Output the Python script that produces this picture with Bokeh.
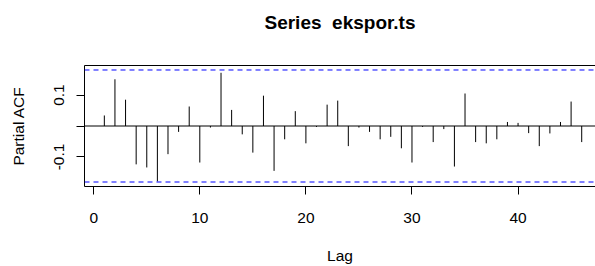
from bokeh.plotting import figure
from bokeh.models import ColumnDataSource, Range1d, Span, FixedTicker, LinearAxis
from bokeh.embed import file_html
from bokeh.resources import INLINE

# ---- data ----
lags = list(range(1, 47))
pacf_values = [
    0.034, 0.151, 0.085, -0.124, -0.134, -0.179, -0.091, -0.019, 0.063, -0.118,
    -0.005, 0.172, 0.052, -0.027, -0.086, 0.098, -0.145, -0.043, 0.048, -0.056,
    -0.003, 0.069, 0.082, -0.065, -0.005, -0.019, -0.043, -0.035, -0.072, -0.118,
    -0.003, -0.052, -0.010, -0.131, 0.105, -0.052, -0.056, -0.043, 0.013, 0.010,
    -0.023, -0.065, -0.024, 0.013, 0.079, -0.052,
]
conf_limit = 0.181
x_ticks = [0, 10, 20, 30, 40]
y_ticks = [-0.1, 0.0, 0.1]
y_tick_labels = {-0.1: "-0.1", 0.0: "", 0.1: "0.1"}
title_text = "Series \u00a0ekspor.ts"
x_label = "Lag"
y_label = "Partial ACF"

FONT = "Liberation Sans"

source = ColumnDataSource(dict(lag=lags, pacf=pacf_values, base=[0.0] * len(lags)))

p = figure(
    width=595, height=266,
    x_range=Range1d(-0.87, 47.3), y_range=Range1d(-0.1955, 0.1955),
    output_backend="svg", toolbar_location=None, title_location=None,
    min_border_left=84, min_border_right=0, min_border_top=65, min_border_bottom=78,
    background_fill_color="white", border_fill_color="white",
)
p.outline_line_color = None
p.grid.visible = False

# bars
p.segment(x0="lag", y0="base", x1="lag", y1="pacf", source=source,
          line_color="black", line_width=1)

# zero line and confidence limits
p.add_layout(Span(location=0, dimension="width", line_color="black", line_width=1))
for c in (conf_limit, -conf_limit):
    p.add_layout(Span(location=c, dimension="width", line_color="#0000FF",
                      line_width=1, line_dash="5 4"))

# axes
xa = p.xaxis[0]
xa.ticker = FixedTicker(ticks=x_ticks)
ya = p.yaxis[0]
ya.ticker = FixedTicker(ticks=y_ticks)
ya.major_label_overrides = y_tick_labels
ya.major_label_orientation = "vertical"

for ax in (xa, ya):
    ax.major_tick_out = 8
    ax.major_tick_in = 0
    ax.minor_tick_line_color = None
    ax.axis_line_color = "black"
    ax.major_tick_line_color = "black"
    ax.major_label_text_font = FONT
    ax.major_label_text_font_size = "15.5px"
    ax.major_label_text_color = "black"
    ax.axis_label_text_font = FONT
    ax.axis_label_text_font_size = "15.5px"
    ax.axis_label_text_font_style = "normal"
    ax.axis_label_text_color = "black"

xa.major_label_standoff = 18
xa.axis_label = x_label
xa.axis_label_standoff = 21
ya.major_label_standoff = 12
ya.axis_label = y_label
ya.axis_label_standoff = 25

# top border of the box, carrying the main title as its label
top = LinearAxis(ticker=FixedTicker(ticks=[]), major_tick_line_color=None,
                 major_tick_out=0, major_tick_in=0, major_label_standoff=0,
                 minor_tick_line_color=None, major_label_text_font_size="0px",
                 axis_line_color="black", axis_line_width=1,
                 axis_label=title_text, axis_label_standoff=33,
                 axis_label_text_font=FONT, axis_label_text_font_size="19px",
                 axis_label_text_font_style="bold", axis_label_text_color="black")
p.add_layout(top, "above")

open("out.html", "w").write(file_html(p, INLINE))
